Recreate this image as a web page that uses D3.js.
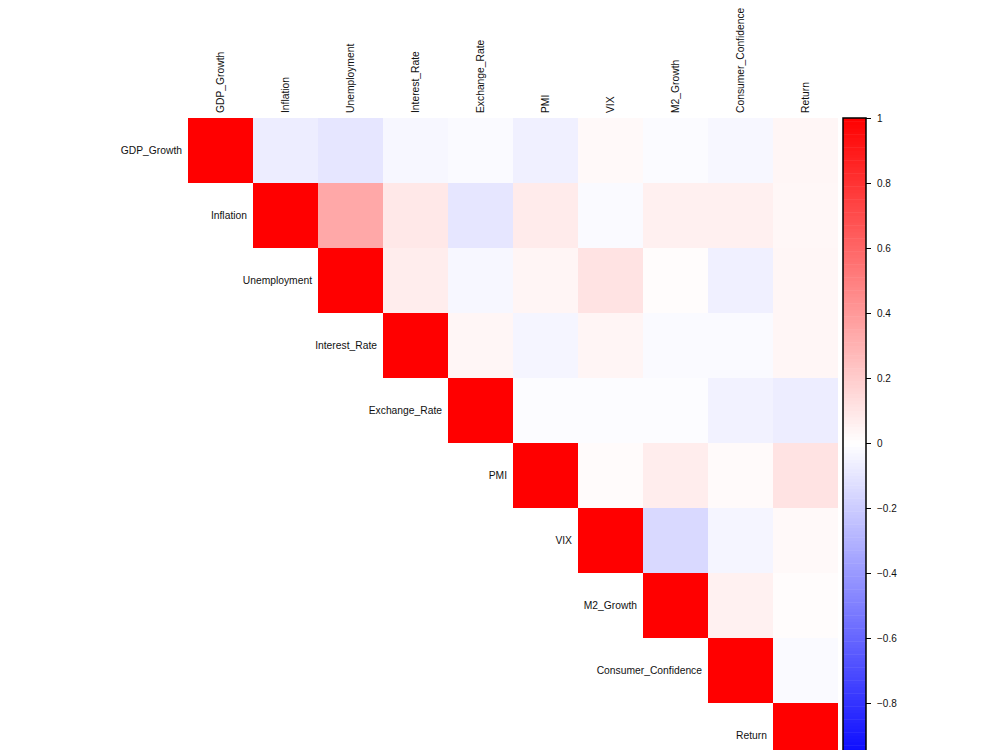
<!DOCTYPE html>
<html>
<head>
<meta charset="utf-8">
<script src="https://cdn.jsdelivr.net/npm/d3@7"></script>
<style>
  body { margin: 0; background: #fff; }
  text { font-family: "Liberation Sans", Arial, sans-serif; }
</style>
</head>
<body>
<svg class="corr" width="1000" height="750"></svg>
<script>
// variable names (rows = columns)
const vars = ["GDP_Growth", "Inflation", "Unemployment", "Interest_Rate", "Exchange_Rate",
              "PMI", "VIX", "M2_Growth", "Consumer_Confidence", "Return"];

// upper triangle of the correlation matrix, one array per row (starting at the diagonal)
const rowGDP       = [1, -0.07, -0.10, -0.03, -0.02, -0.06, 0.025, -0.015, -0.03, 0.035];
const rowInflation = [1, 0.34, 0.09, -0.10, 0.08, -0.02, 0.06, 0.06, 0.03];
const rowUnemploy  = [1, 0.07, -0.03, 0.04, 0.11, 0.01, -0.06, 0.035];
const rowInterest  = [1, 0.035, -0.04, 0.04, -0.02, -0.02, 0.035];
const rowExchange  = [1, -0.01, -0.01, -0.01, -0.05, -0.07];
const rowPMI       = [1, 0.015, 0.07, 0.02, 0.11];
const rowVIX       = [1, -0.15, -0.04, 0.025];
const rowM2        = [1, 0.055, 0.01];
const rowConsumer  = [1, -0.02];
const rowReturn    = [1];

const rows = [rowGDP, rowInflation, rowUnemploy, rowInterest, rowExchange,
              rowPMI, rowVIX, rowM2, rowConsumer, rowReturn];

// colour bar tick labels
const legendTicks = [1, 0.8, 0.6, 0.4, 0.2, 0, -0.2, -0.4, -0.6, -0.8];

(function corrPlot(){
    let svg = d3.select("svg.corr");
    let left = 188, top = 118, cell = 65;
    let size = cell * vars.length;

    let x = d3.scaleBand().domain(vars).range([left, left + size]);
    let y = d3.scaleBand().domain(vars).range([top, top + size]);
    let color = d3.scaleLinear().domain([-1, 0, 1]).range(["#0000ff", "#ffffff", "#ff0000"]);

    // flatten the triangle into cells
    let cells = [];
    rows.forEach(function(r, i) {
        r.forEach(function(v, k) {
            cells.push({row: vars[i], col: vars[i + k], value: v});
        });
    });

    svg.selectAll(".cell")
        .data(cells)
        .enter()
        .append("rect")
        .attr("class", "cell")
        .attr("x", d => x(d.col))
        .attr("y", d => y(d.row))
        .attr("width", x.bandwidth())
        .attr("height", y.bandwidth())
        .attr("shape-rendering", "crispEdges")
        .style("fill", d => color(d.value));

    // row labels, right aligned just left of the diagonal cell
    svg.selectAll(".rlab")
        .data(vars)
        .enter()
        .append("text")
        .attr("class", "rlab")
        .attr("x", d => x(d) - 6)
        .attr("y", d => y(d) + y.bandwidth() / 2)
        .attr("dy", "0.35em")
        .attr("text-anchor", "end")
        .style("font-size", "10.3px")
        .style("fill", "#111")
        .text(d => d);

    // column labels, rotated above the grid
    svg.selectAll(".clab")
        .data(vars)
        .enter()
        .append("text")
        .attr("class", "clab")
        .attr("transform", d => "translate(" + (x(d) + x.bandwidth() / 2) + "," + (top - 5) + ") rotate(-90)")
        .attr("dy", "0.35em")
        .style("font-size", "10.3px")
        .style("fill", "#111")
        .text(d => d);

    // colour bar
    let barX = 843, barW = 23;
    let ly = d3.scaleLinear().domain([-1, 1]).range([top + size, top]);
    let steps = d3.range(-1, 1, 0.01);
    svg.selectAll(".leg")
        .data(steps)
        .enter()
        .append("rect")
        .attr("class", "leg")
        .attr("x", barX)
        .attr("y", d => ly(d + 0.01))
        .attr("width", barW)
        .attr("height", ly(-1) - ly(-0.99) + 0.5)
        .style("fill", d => color(d + 0.005));
    svg.append("rect")
        .attr("x", barX)
        .attr("y", top)
        .attr("width", barW)
        .attr("height", size)
        .style("fill", "none")
        .style("stroke", "#000")
        .style("stroke-width", 1.5);

    let axis = svg.append("g")
        .attr("transform", "translate(" + (barX + barW) + ",0)")
        .call(d3.axisRight(ly).tickValues(legendTicks).tickSize(5).tickPadding(6).tickFormat(d3.format("")));
    axis.select(".domain").remove();
    axis.selectAll("text").style("font-size", "10px").style("fill", "#111")
        .style("font-family", "'Liberation Sans', Arial, sans-serif");
})();
</script>
</body>
</html>
